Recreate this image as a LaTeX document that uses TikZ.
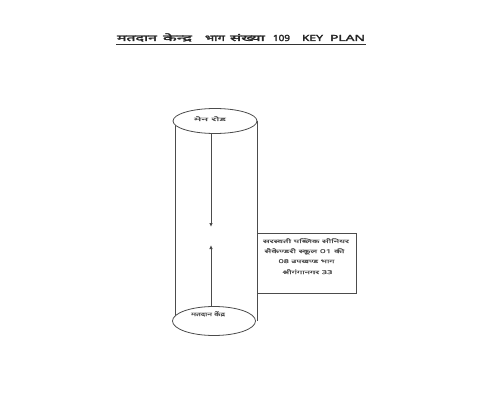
\documentclass[tikz,border=0pt]{standalone}
\usepackage{fontspec}
\usepackage{graphicx}
\newfontfamily\devab[Script=Devanagari,FakeBold=2.5]{Noto Sans}
\newfontfamily\devam[Script=Devanagari,FakeBold=0.5]{Noto Sans}
\usetikzlibrary{arrows.meta,shapes.geometric}
\newcommand{\fitw}[2]{\resizebox{#1}{\height}{#2}}
\begin{document}
\begin{tikzpicture}[x=1pt,y=-1pt,
  line/.style={draw=black!70,line width=0.8pt},
  arr/.style={line,-{Latex[length=4pt,width=3.5pt]}},
  lbl/.style={font=\devam\fontsize{5.2}{6}\selectfont,text=black!70,inner sep=0pt,anchor=base},
  tw/.style={font=\devab\fontsize{8.5}{10}\selectfont,text=black!85,inner sep=0pt,anchor=base}]
\useasboundingbox (0,0) rectangle (493,401);
% title
\node[tw] (t1) at (137,41) {\fitw{40pt}{मतदान}};
\node[tw] (t2) at (177.5,41) {\fitw{29pt}{केन्द्र}};
\node[tw] (t3) at (215,41) {\fitw{20pt}{भाग}};
\node[tw] (t4) at (247.5,41) {\fitw{35pt}{संख्या}};
\node[tw] (t5) at (281.5,41) {\fitw{17pt}{109}};
\node[tw] (t6) at (312.5,41) {\fitw{21pt}{KEY}};
\node[tw] (t7) at (347.5,41) {\fitw{35pt}{PLAN}};
\coordinate (ul1) at (116,44);
\coordinate (ul2) at (366,44);
\draw[black!80,line width=0.8pt] (ul1) -- (ul2);
% cylinder
\draw[line] (175,121) -- (175,321);
\draw[line] (257,121) -- (257,321);
\node[line,ellipse,minimum width=84pt,minimum height=25pt,inner sep=0pt,fill=white] (top) at (215,121) {};
\node[line,ellipse,minimum width=83pt,minimum height=29pt,inner sep=0pt,fill=white] (bot) at (214,321) {};
\node[lbl] (toplbl) at (210,121) {\fitw{32pt}{मेन रोड}};
\node[lbl] (botlbl) at (208,316) {\fitw{34pt}{मतदान केंद्र}};
% arrows
\coordinate (d1) at (211,227);
\coordinate (u1) at (211,245);
\draw[arr] (top.south -| d1) -- (d1);
\draw[arr] (bot.north -| u1) -- (u1);
% box
\node[line,draw,minimum width=99pt,minimum height=60pt,inner sep=2pt,anchor=north west,fill=white] (box) at (257,233) {};
\node[lbl] (b1) at (306,243) {\fitw{86pt}{सरस्वती पब्लिक सीनियर}};
\node[lbl] (b2) at (304.5,253) {\fitw{80pt}{सैकेण्डरी स्कूल 01 की}};
\node[lbl] (b3) at (306.5,263) {\fitw{56pt}{08 उपखण्ड भाग}};
\node[lbl] (b4) at (307.5,274) {\fitw{50pt}{श्रीगंगानगर 33}};
\end{tikzpicture}
\end{document}
